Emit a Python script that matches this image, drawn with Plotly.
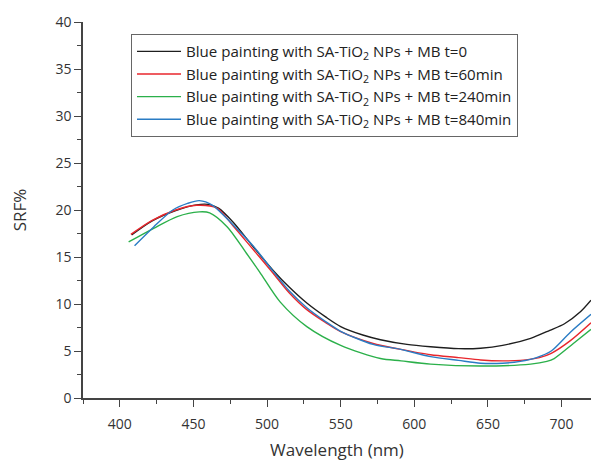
import plotly.graph_objects as go

# t=0 (black)
w_t0 = [408, 422, 438, 452, 460, 467, 477, 490, 504, 515, 527, 540, 550, 565, 577, 595, 611, 630, 645, 660, 679, 692, 702, 713, 720]
v_t0 = [17.35, 18.85, 19.95, 20.55, 20.6, 20.2, 18.7, 16.2, 13.6, 11.8, 10.1, 8.6, 7.6, 6.7, 6.2, 5.7, 5.45, 5.25, 5.3, 5.6, 6.35, 7.2, 7.9, 9.2, 10.4]

# t=60min (red)
w_t60 = [407.5, 422, 438, 452, 466, 477, 490, 504, 515, 527, 540, 550, 572, 590, 611, 630, 645, 660, 672, 685, 693, 706, 720]
v_t60 = [17.4, 18.9, 20.0, 20.5, 20.2, 18.3, 15.9, 13.3, 11.2, 9.4, 8.0, 7.05, 5.8, 5.2, 4.6, 4.3, 4.05, 3.95, 4.0, 4.3, 4.75, 6.1, 8.0]

# t=240min (green)
w_t240 = [406, 423, 439, 454, 461, 473, 486, 495, 509, 527, 550, 577, 591, 611, 645, 679, 690, 695, 708, 720]
v_t240 = [16.6, 18.05, 19.3, 19.8, 19.7, 18.2, 15.4, 13.4, 10.2, 7.6, 5.6, 4.2, 3.95, 3.6, 3.4, 3.6, 3.9, 4.2, 5.8, 7.3]

# t=840min (blue)
w_t840 = [410, 423, 436, 446, 454, 463, 477, 491, 504, 515, 527, 540, 550, 572, 590, 611, 630, 645, 660, 672, 683, 693, 706, 720]
v_t840 = [16.2, 18.2, 20.0, 20.7, 21.0, 20.5, 18.4, 16.1, 13.5, 11.4, 9.6, 8.1, 7.1, 5.7, 5.2, 4.4, 4.0, 3.7, 3.7, 3.9, 4.3, 5.0, 7.0, 8.9]

names = [
    "Blue painting with SA-TiO<sub>2</sub> NPs + MB t=0",
    "Blue painting with SA-TiO<sub>2</sub> NPs + MB t=60min",
    "Blue painting with SA-TiO<sub>2</sub> NPs + MB t=240min",
    "Blue painting with SA-TiO<sub>2</sub> NPs + MB t=840min",
]
colors = ["#1e1e1e", "#e8262c", "#2bb04a", "#2a7cc4"]
series = [(w_t0, v_t0), (w_t60, v_t60), (w_t240, v_t240), (w_t840, v_t840)]

fig = go.Figure()
for (w, v), n, c in zip(series, names, colors):
    fig.add_trace(go.Scatter(x=w, y=v, name=n, mode="lines",
                             line=dict(color=c, width=1.4, shape="spline", smoothing=0.8)))

FONT = "Open Sans"
fig.update_layout(
    width=591, height=461,
    margin=dict(l=83, r=0, t=22, b=63),
    paper_bgcolor="white", plot_bgcolor="white",
    font=dict(family=FONT, color="#333333", size=14),
    showlegend=True,
    legend=dict(x=0.0945, y=0.968, xanchor="left", yanchor="top",
                bordercolor="#666666", borderwidth=1, bgcolor="white",
                itemwidth=44,
                font=dict(size=15.1, color="#222222"), tracegroupgap=0),
    xaxis=dict(range=[375, 720], tick0=400, dtick=50, ticks="outside", ticklen=7,
               tickwidth=1.3, tickcolor="#444444", showline=True, linecolor="#444444",
               linewidth=1.5, showgrid=False, zeroline=False, ticklabelstandoff=5,
               minor=dict(tick0=400, dtick=25, ticks="outside", ticklen=4, tickwidth=1.3, tickcolor="#444444"),
               title=dict(text="Wavelength (nm)", font=dict(size=17, color="#333333"), standoff=16)),
    yaxis=dict(range=[0, 40], tick0=0, dtick=5, ticks="outside", ticklen=7,
               tickwidth=1.3, tickcolor="#444444", showline=True, linecolor="#444444",
               linewidth=1.5, showgrid=False, zeroline=False,
               minor=dict(tick0=0, dtick=2.5, ticks="outside", ticklen=4, tickwidth=1.3, tickcolor="#444444"),
               title=dict(text="SRF%", font=dict(size=17, color="#333333"), standoff=24)),
)

fig.write_html("out.html")
